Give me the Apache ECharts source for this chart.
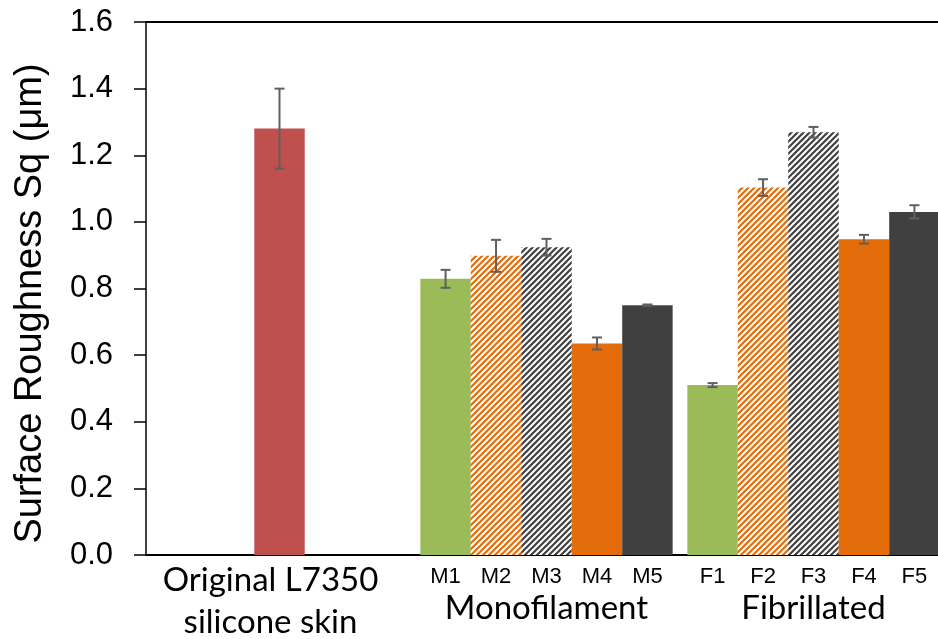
<!DOCTYPE html>
<html>
<head>
<meta charset="utf-8">
<script src="https://cdn.jsdelivr.net/npm/echarts@6/dist/echarts.min.js"></script>
<style>
html,body{margin:0;padding:0;background:#fff;}
#chart{width:938px;height:639px;}
</style>
</head>
<body>
<div id="chart"></div>
<script>
// ---- Data ----
const categories = ['Original L7350\nsilicone skin', 'Monofilament', 'Fibrillated'];
const monoLabels = ['M1', 'M2', 'M3', 'M4', 'M5'];
const fibLabels = ['F1', 'F2', 'F3', 'F4', 'F5'];
const originalValue = 1.28;
const originalErr = 0.12;
const monoValues = [0.829, 0.898, 0.924, 0.635, 0.750];
const monoErr = [0.027, 0.048, 0.025, 0.018, 0.002];
const fibValues = [0.510, 1.103, 1.269, 0.948, 1.030];
const fibErr = [0.006, 0.025, 0.016, 0.013, 0.020];
const yTicks = [0, 0.2, 0.4, 0.6, 0.8, 1.0, 1.2, 1.4, 1.6];

// ---- Styles ----
function makeHatch(color) {
  const s = 6;
  const c = document.createElement('canvas');
  c.width = s; c.height = s;
  const ctx = c.getContext('2d');
  ctx.fillStyle = '#ffffff';
  ctx.fillRect(0, 0, s, s);
  ctx.strokeStyle = color;
  ctx.lineWidth = 2.2;
  ctx.beginPath();
  ctx.moveTo(0, s); ctx.lineTo(s, 0);
  ctx.moveTo(-s / 2, s / 2); ctx.lineTo(s / 2, -s / 2);
  ctx.moveTo(s / 2, s * 1.5); ctx.lineTo(s * 1.5, s / 2);
  ctx.stroke();
  return { image: c, repeat: 'repeat' };
}
const seriesColors = [
  '#9BBB59',
  makeHatch('#E46C0A'),
  makeHatch('#404040'),
  '#E46C0A',
  '#404040'
];
const originalColor = '#C0504D';
const CAT_GAP = 0.055;

const chart = echarts.init(document.getElementById('chart'), null, { renderer: 'canvas' });

const barSeries = [];
for (let i = 0; i < 5; i++) {
  let first = '-';
  if (i === 2) first = { value: originalValue, itemStyle: { color: originalColor } };
  barSeries.push({
    type: 'bar',
    name: 'S' + (i + 1),
    data: [first, monoValues[i], fibValues[i]],
    barGap: '0%',
    barCategoryGap: (CAT_GAP * 100) + '%',
    itemStyle: { color: seriesColors[i] },
    label: {
      show: true,
      position: ['50%', '100%'],
      align: 'center',
      verticalAlign: 'middle',
      offset: [0, 22],
      fontFamily: 'Liberation Sans',
      fontSize: 22,
      color: '#000',
      formatter: function (p) {
        if (p.dataIndex === 1) return monoLabels[p.seriesIndex];
        if (p.dataIndex === 2) return fibLabels[p.seriesIndex];
        return '';
      }
    },
    emphasis: { disabled: true },
    z: 2
  });
}

// error bar data: [catIndex, value, err, seriesSlot]
const errData = [[0, originalValue, originalErr, 2]];
for (let i = 0; i < 5; i++) {
  errData.push([1, monoValues[i], monoErr[i], i]);
  errData.push([2, fibValues[i], fibErr[i], i]);
}

const errSeries = {
  type: 'custom',
  data: errData,
  z: 5,
  silent: true,
  renderItem: function (params, api) {
    const cat = api.value(0), v = api.value(1), e = api.value(2), slot = api.value(3);
    const catW = api.size([1, 0])[0];
    const bw = catW * (1 - CAT_GAP) / 5;
    const top = api.coord([cat, v + e]);
    const bot = api.coord([cat, v - e]);
    const x = top[0] + (slot - 2) * bw;
    const cap = 5;
    const st = { stroke: '#5F5F5F', lineWidth: 2, fill: null };
    return {
      type: 'group',
      children: [
        { type: 'line', shape: { x1: x, y1: top[1], x2: x, y2: bot[1] }, style: st },
        { type: 'line', shape: { x1: x - cap, y1: top[1], x2: x + cap, y2: top[1] }, style: st },
        { type: 'line', shape: { x1: x - cap, y1: bot[1], x2: x + cap, y2: bot[1] }, style: st }
      ]
    };
  }
};

const option = {
  animation: false,
  backgroundColor: '#fff',
  grid: { left: 146, right: -9, top: 22, bottom: 84, outerBoundsMode: 'none', containLabel: false },
  xAxis: [
    {
      type: 'category',
      data: categories,
      position: 'bottom',
      axisLine: { show: true, lineStyle: { color: '#000', width: 2 } },
      axisTick: { show: false },
      axisLabel: {
        interval: 0,
        margin: 4,
        color: '#000',
        fontFamily: 'Lato',
        formatter: function (val, idx) {
          const parts = val.split('\n');
          if (parts.length > 1) return parts.map(p => '{o|' + p + '}').join('\n');
          return '{g|}\n{a|' + val + '}';
        },
        rich: {
          a: { fontFamily: 'Lato', fontSize: 33, lineHeight: 42, color: '#000' },
          o: { fontFamily: 'Lato', fontSize: 33, lineHeight: 42, color: '#000', padding: [0, 18, 0, 0] },
          g: { fontSize: 10, lineHeight: 28 }
        }
      }
    },
    {
      type: 'category',
      data: categories,
      position: 'top',
      axisLine: { show: true, lineStyle: { color: '#000', width: 2 } },
      axisTick: { show: false },
      axisLabel: { show: false }
    }
  ],
  yAxis: {
    type: 'value',
    min: 0,
    max: 1.6,
    interval: 0.2,
    name: 'Surface Roughness Sq (μm)',
    nameLocation: 'middle',
    nameGap: 96,
    nameRotate: 90,
    nameTextStyle: { fontFamily: 'Liberation Sans', fontSize: 38, color: '#000', padding: [0, 30, 0, 0] },
    axisLine: { show: true, lineStyle: { color: '#000', width: 1.5 } },
    axisTick: { show: true, inside: false, length: 12, lineStyle: { color: '#000', width: 1.5 } },
    splitLine: { show: false },
    axisLabel: {
      margin: 33,
      color: '#000',
      fontFamily: 'Liberation Sans',
      fontSize: 31,
      formatter: function (v) {
        const t = yTicks.find(x => Math.abs(x - v) < 1e-9);
        return (t !== undefined ? t : v).toFixed(1);
      }
    }
  },
  series: barSeries.concat([errSeries])
};
chart.setOption(option);
</script>
</body>
</html>
